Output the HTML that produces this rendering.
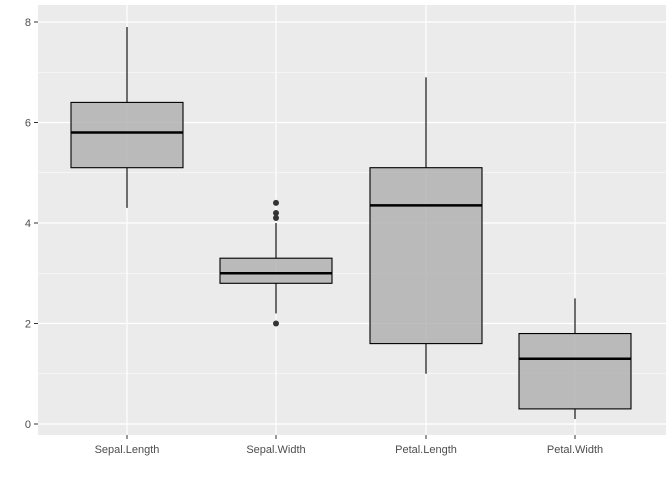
<!DOCTYPE html>
<html><head><meta charset="utf-8"><style>body{margin:0;background:#fff}svg{display:block}</style></head><body>
<svg width="672" height="480" xmlns="http://www.w3.org/2000/svg" font-family="Liberation Sans, sans-serif">
<rect x="0" y="0" width="672" height="480" fill="#fff"/>
<rect x="38" y="5" width="628" height="430" fill="#EBEBEB"/>
<g stroke="#fff" stroke-width="0.6">
<line x1="38" x2="666" y1="373.75" y2="373.75"/><line x1="38" x2="666" y1="273.25" y2="273.25"/>
<line x1="38" x2="666" y1="172.75" y2="172.75"/><line x1="38" x2="666" y1="72.25" y2="72.25"/>
</g>
<g stroke="#fff" stroke-width="1.2">
<line x1="38" x2="666" y1="424" y2="424"/><line x1="38" x2="666" y1="323.5" y2="323.5"/>
<line x1="38" x2="666" y1="223" y2="223"/><line x1="38" x2="666" y1="122.5" y2="122.5"/>
<line x1="38" x2="666" y1="22" y2="22"/>
<line x1="127" x2="127" y1="5" y2="435"/><line x1="276" x2="276" y1="5" y2="435"/>
<line x1="426" x2="426" y1="5" y2="435"/><line x1="575" x2="575" y1="5" y2="435"/>
</g>
<g stroke="#000" stroke-width="1.1" fill="#AEAEAE" fill-opacity="0.8">
<line x1="127" x2="127" y1="27" y2="102.4"/><line x1="127" x2="127" y1="167.7" y2="207.9"/>
<rect x="71" y="102.4" width="112" height="65.3"/>
<line x1="71" x2="183" y1="132.55" y2="132.55" stroke-width="2.5"/>
<line x1="276" x2="276" y1="223" y2="258.2"/><line x1="276" x2="276" y1="283.3" y2="313.45"/>
<rect x="220" y="258.2" width="112" height="25.1"/>
<line x1="220" x2="332" y1="273.25" y2="273.25" stroke-width="2.5"/>
<line x1="426" x2="426" y1="77.3" y2="167.7"/><line x1="426" x2="426" y1="343.6" y2="373.75"/>
<rect x="370" y="167.7" width="112" height="175.9"/>
<line x1="370" x2="482" y1="205.4" y2="205.4" stroke-width="2.5"/>
<line x1="575" x2="575" y1="298.4" y2="333.55"/><line x1="575" x2="575" y1="408.9" y2="419"/>
<rect x="519" y="333.55" width="112" height="75.35"/>
<line x1="519" x2="631" y1="358.7" y2="358.7" stroke-width="2.5"/>
</g>
<g fill="#333">
<circle cx="276" cy="202.9" r="3"/><circle cx="276" cy="212.95" r="3"/><circle cx="276" cy="218" r="3"/><circle cx="276" cy="323.5" r="3"/>
</g>
<g stroke="#333" stroke-width="1">
<line x1="34" x2="38" y1="424" y2="424"/><line x1="34" x2="38" y1="323.5" y2="323.5"/><line x1="34" x2="38" y1="223" y2="223"/><line x1="34" x2="38" y1="122.5" y2="122.5"/><line x1="34" x2="38" y1="22" y2="22"/>
<line x1="127" x2="127" y1="435" y2="439"/><line x1="276" x2="276" y1="435" y2="439"/><line x1="426" x2="426" y1="435" y2="439"/><line x1="575" x2="575" y1="435" y2="439"/>
</g>
<g fill="#4D4D4D" font-size="11" text-anchor="end">
<text x="31" y="428">0</text><text x="31" y="327.5">2</text><text x="31" y="227">4</text><text x="31" y="126.5">6</text><text x="31" y="26">8</text>
</g>
<g fill="#4D4D4D" font-size="11" text-anchor="middle">
<text x="127" y="453">Sepal.Length</text><text x="276" y="453">Sepal.Width</text><text x="426" y="453">Petal.Length</text><text x="575" y="453">Petal.Width</text>
</g>
</svg>
</body></html>
